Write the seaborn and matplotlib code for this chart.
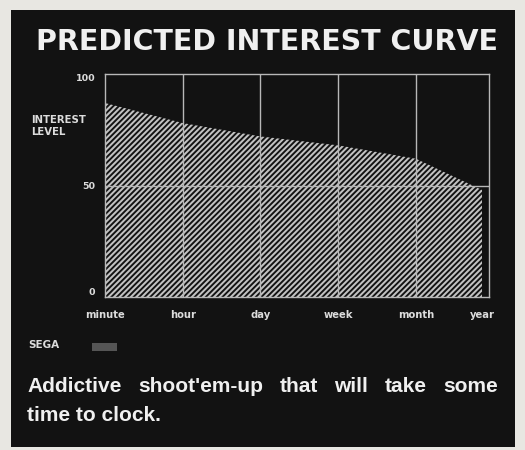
import matplotlib
matplotlib.use("Agg")
import matplotlib.pyplot as plt
from matplotlib.patches import Rectangle
import pandas as pd
import seaborn as sns

# Predicted interest over play time
periods = ["minute", "hour", "day", "week", "month", "year"]
interest = [87, 78, 72, 68, 62, 48]
y_ticks = [0, 50, 100]

title = "PREDICTED INTEREST CURVE"
axis_label = "INTEREST\nLEVEL"
publisher = "SEGA"
verdict_lines = ["Addictive shoot'em-up that will take some", "time to clock."]

W, H = 525, 450
INK = "#121212"
HATCH = "#c2c2c2"
GRID = "#b8b8b8"
TEXT = "#f0f0f0"


def fx(px):
    return px / W


def fy(py):
    return 1 - py / H


sns.set_theme(style="dark")
plt.rcParams["font.family"] = ["DejaVu Sans"]
plt.rcParams["hatch.linewidth"] = 1.45
plt.rcParams["hatch.color"] = HATCH

fig = plt.figure(figsize=(W / 100, H / 100), dpi=100, facecolor="#e8e7e2")
fig.patches.append(Rectangle((fx(11), fy(447)), fx(515) - fx(11), fy(10) - fy(447),
                             transform=fig.transFigure, facecolor=INK,
                             edgecolor="none", zorder=-2))

ax = fig.add_axes([fx(105), fy(297), fx(489) - fx(105), fy(74) - fy(297)])
ax.set_facecolor(INK)

# x positions of the time scale (the last step is a little shorter)
pos = [0, 1, 2, 3, 4, 4.85]
df = pd.DataFrame({"pos": pos, "interest": interest, "period": periods})

sns.lineplot(data=df, x="pos", y="interest", ax=ax, color=HATCH, linewidth=0)
ax.fill_between(df["pos"], 0, df["interest"], facecolor=INK, edgecolor=HATCH,
                hatch="/" * 6, linewidth=0, zorder=1)

ax.set_xlim(0, 4.94)
ax.set_ylim(0, 100)
ax.set_xticks(pos, periods)
ax.set_yticks(y_ticks)
ax.set_xlabel("")
ax.set_ylabel("")
ax.grid(False)
ax.vlines(pos[1:-1], 0, 100, color=GRID, lw=1, zorder=3)
ax.hlines([50], 0, 4.94, color=GRID, lw=1, zorder=3)
for s in ax.spines.values():
    s.set_visible(True)
    s.set_color(GRID)
    s.set_linewidth(1)
    s.set_zorder(4)

ax.tick_params(axis="x", length=0, colors="#dcdcdc", labelsize=7.2, pad=9)
ax.tick_params(axis="y", length=0, colors="#dcdcdc", labelsize=6.8, pad=7)
for lbl in ax.get_xticklabels() + ax.get_yticklabels():
    lbl.set_fontweight("bold")
# end labels of the y scale sit just inside the frame
ylabels = ax.get_yticklabels()
ylabels[0].set_va("bottom")
ylabels[-1].set_va("top")

fig.text(fx(267.5), fy(50), title, ha="center", va="baseline",
         fontsize=20.5, fontweight="bold", color=TEXT)
fig.text(fx(31), fy(126), axis_label, ha="left", va="center", fontsize=7.3,
         fontweight="bold", color="#dcdcdc", linespacing=1.35)

fig.text(fx(28), fy(345), publisher, ha="left", va="center", fontsize=7.5,
         fontweight="bold", color="#dcdcdc")
fig.patches.append(Rectangle((fx(92), fy(351)), fx(117) - fx(92), fy(343) - fy(351),
                             transform=fig.transFigure, facecolor="#555555",
                             edgecolor="none", zorder=1))

# verdict text, first line justified
body_font = dict(fontsize=15, fontweight="bold", color=TEXT,
                 family=["Liberation Sans", "DejaVu Sans"])
x0, x1 = 27, 498
words = verdict_lines[0].split()
word_texts = [fig.text(0, fy(392), w, ha="left", va="baseline", **body_font)
              for w in words]
renderer = fig.canvas.get_renderer()
widths = [t.get_window_extent(renderer).width for t in word_texts]
gap = (x1 - x0 - sum(widths)) / (len(words) - 1)
cur = x0
for t, w in zip(word_texts, widths):
    t.set_x(fx(cur))
    cur += w + gap
fig.text(fx(x0), fy(421), verdict_lines[1], ha="left", va="baseline", **body_font)

fig.savefig("out.png", dpi=100, facecolor=fig.get_facecolor())
